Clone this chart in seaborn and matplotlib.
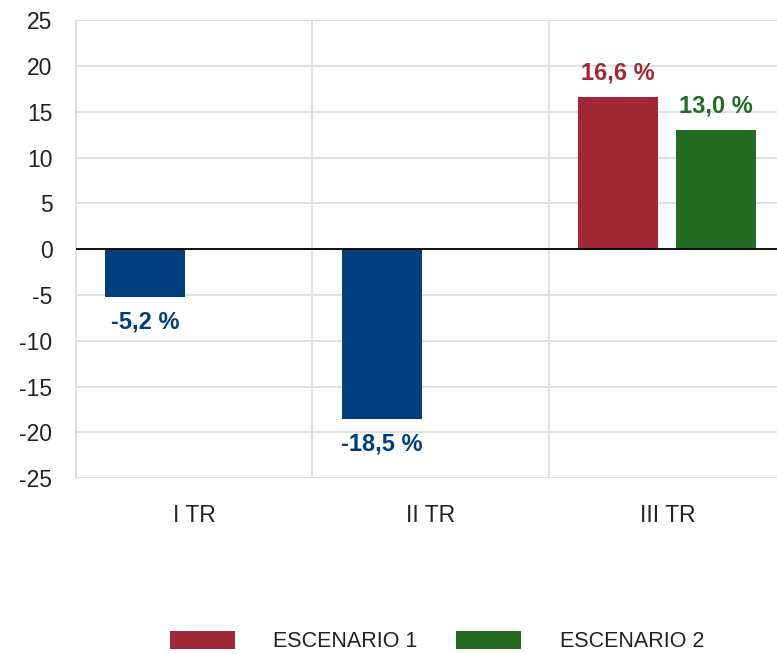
import matplotlib
matplotlib.use('Agg')
import matplotlib.pyplot as plt
from matplotlib.patches import Patch
import seaborn as sns
import pandas as pd
import numpy as np

# Datos (variación %, por trimestre)
trimestres = ['I TR', 'II TR', 'III TR']
columna_1 = [-5.2, -18.5, 16.6]        # dato real (I y II TR), escenario 1 (III TR)
columna_2 = [np.nan, np.nan, 13.0]     # escenario 2
serie_col1 = ['Real', 'Real', 'ESCENARIO 1']
serie_col2 = [None, None, 'ESCENARIO 2']
escenarios = ['ESCENARIO 1', 'ESCENARIO 2']
y_ticks = list(range(-25, 30, 5))

colores = {'Real': '#013f7c', 'ESCENARIO 1': '#a12837', 'ESCENARIO 2': '#246b24'}


def build_frame():
    filas = []
    for i, tr in enumerate(trimestres):
        filas.append({'Trimestre': tr, 'Columna': 'c1', 'Valor': columna_1[i], 'Serie': serie_col1[i]})
        filas.append({'Trimestre': tr, 'Columna': 'c2', 'Valor': columna_2[i], 'Serie': serie_col2[i]})
    return pd.DataFrame(filas).dropna(subset=['Valor'])


def main():
    sns.set_theme(style='whitegrid')
    plt.rcParams['font.family'] = ['Liberation Sans', 'DejaVu Sans']
    plt.rcParams['axes.unicode_minus'] = False

    df = build_frame()

    fig = plt.figure(figsize=(7.77, 6.54), dpi=100)
    ax = fig.add_axes([0.0978, 0.269, 0.9022, 0.700])

    sns.barplot(data=df, x='Trimestre', y='Valor', hue='Columna', order=trimestres,
                hue_order=['c1', 'c2'], width=0.83, gap=0.185, errorbar=None,
                legend=False, ax=ax)

    # colores y etiquetas por barra
    for cont, col in zip(ax.containers, ['c1', 'c2']):
        grupo = df[df['Columna'] == col]
        for bar, (_, fila) in zip(cont, grupo.iterrows()):
            color = colores[fila['Serie']]
            bar.set_facecolor(color)
            bar.set_edgecolor('none')
            v = fila['Valor']
            texto = f"{v:.1f} %".replace('.', ',')
            offset = 17.5 if v > 0 else -18
            ax.annotate(texto, (bar.get_x() + bar.get_width() / 2, v),
                        xytext=(0, offset), textcoords='offset points',
                        ha='center', va='center', color=color,
                        fontsize=17, fontweight='bold')

    ax.set_ylim(-25, 25)
    ax.set_yticks(y_ticks)
    ax.set_xlim(-0.5, 2.464)
    ax.set_xticks([0.5, 1.5], minor=True)
    ax.set_xlabel('')
    ax.set_ylabel('')

    ax.grid(False)
    ax.grid(True, axis='y', which='major', color='#dddddd', linewidth=1.3)
    ax.grid(True, axis='x', which='minor', color='#dddddd', linewidth=1.3)
    ax.axhline(0, color='black', linewidth=1.3, zorder=3)

    for s in ['top', 'right', 'bottom']:
        ax.spines[s].set_visible(False)
    ax.spines['left'].set_color('#dddddd')
    ax.spines['left'].set_linewidth(1.3)

    ax.tick_params(axis='y', which='both', length=0, pad=17, labelsize=16.5, labelcolor='#222222')
    ax.tick_params(axis='x', which='both', length=0, pad=19, labelsize=16.5, labelcolor='#222222')
    ax.set_facecolor('white')

    handles = [Patch(facecolor=colores[e], edgecolor='none', label=e) for e in escenarios]
    fig.legend(handles=handles, loc='center', bbox_to_anchor=(0.5625, 0.019), ncol=2,
               frameon=False, fontsize=15.5, handlelength=3.0, handleheight=0.9,
               handletextpad=1.8, columnspacing=1.8, labelcolor='#222222')

    fig.savefig('out.png', dpi=100)
    plt.close(fig)


if __name__ == '__main__':
    main()
